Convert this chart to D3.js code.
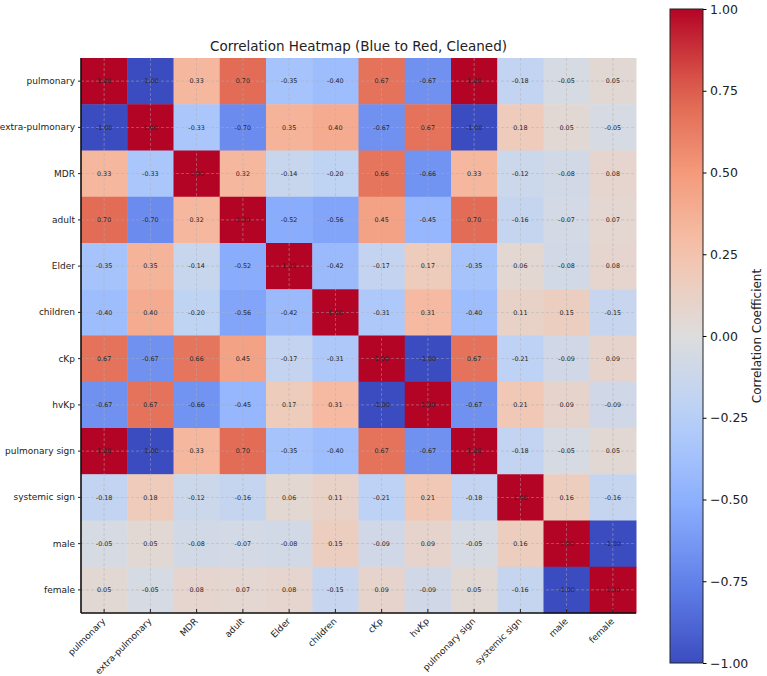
<!DOCTYPE html>
<html>
<head>
<meta charset="utf-8">
<script src="https://cdn.jsdelivr.net/npm/d3@7"></script>
<style>
  body { margin: 0; background: #fff; }
  svg, svg text { font-family: "DejaVu Sans", sans-serif; }
  .grid line { stroke: #b0b0b0; stroke-width: 0.6; stroke-dasharray: 3,2; opacity: 0.8; }
</style>
</head>
<body>
<div id="chart"></div>
<script>
// variables in matrix order
let labels = ["pulmonary", "extra-pulmonary", "MDR", "adult", "Elder", "children",
  "cKp", "hvKp", "pulmonary sign", "systemic sign", "male", "female"];

// correlation rows
let corr = [
  [1.00, -1.00, 0.33, 0.70, -0.35, -0.40, 0.67, -0.67, 1.00, -0.18, -0.05, 0.05],
  [-1.00, 1.00, -0.33, -0.70, 0.35, 0.40, -0.67, 0.67, -1.00, 0.18, 0.05, -0.05],
  [0.33, -0.33, 1.00, 0.32, -0.14, -0.20, 0.66, -0.66, 0.33, -0.12, -0.08, 0.08],
  [0.70, -0.70, 0.32, 1.00, -0.52, -0.56, 0.45, -0.45, 0.70, -0.16, -0.07, 0.07],
  [-0.35, 0.35, -0.14, -0.52, 1.00, -0.42, -0.17, 0.17, -0.35, 0.06, -0.08, 0.08],
  [-0.40, 0.40, -0.20, -0.56, -0.42, 1.00, -0.31, 0.31, -0.40, 0.11, 0.15, -0.15],
  [0.67, -0.67, 0.66, 0.45, -0.17, -0.31, 1.00, -1.00, 0.67, -0.21, -0.09, 0.09],
  [-0.67, 0.67, -0.66, -0.45, 0.17, 0.31, -1.00, 1.00, -0.67, 0.21, 0.09, -0.09],
  [1.00, -1.00, 0.33, 0.70, -0.35, -0.40, 0.67, -0.67, 1.00, -0.18, -0.05, 0.05],
  [-0.18, 0.18, -0.12, -0.16, 0.06, 0.11, -0.21, 0.21, -0.18, 1.00, 0.16, -0.16],
  [-0.05, 0.05, -0.08, -0.07, -0.08, 0.15, -0.09, 0.09, -0.05, 0.16, 1.00, -1.00],
  [0.05, -0.05, 0.08, 0.07, 0.08, -0.15, 0.09, -0.09, 0.05, -0.16, -1.00, 1.00]
];

let cbarTicks = [-1, -0.75, -0.5, -0.25, 0, 0.25, 0.5, 0.75, 1];

// coolwarm anchors
let coolwarm = ["#3b4cc0", "#6282ea", "#8db0fe", "#b8d0f9", "#dddddd",
  "#f5c4ad", "#f49a7b", "#de604d", "#b40426"];

let W = 767, H = 676;
let margin = { top: 58, left: 81 },
  size = 555;
let font = "DejaVu Sans, sans-serif";

let svg = d3.select("#chart").append("svg")
  .attr("width", W).attr("height", H);

let color = d3.scaleLinear()
  .domain(d3.range(coolwarm.length).map(i => -1 + 2 * i / (coolwarm.length - 1)))
  .range(coolwarm)
  .interpolate(d3.interpolateRgb)
  .clamp(true);

let x = d3.scaleBand().domain(labels).range([0, size]);
let y = d3.scaleBand().domain(labels).range([0, size]);

let canvas = svg.append("g")
  .attr("transform", "translate(" + margin.left + "," + margin.top + ")");

let cells = [];
corr.forEach((row, i) => row.forEach((v, j) => cells.push({ r: labels[i], c: labels[j], v: v })));

canvas.selectAll("rect.cell").data(cells).enter().append("rect")
  .attr("class", "cell")
  .attr("x", d => x(d.c))
  .attr("y", d => y(d.r))
  .attr("width", x.bandwidth() + 0.5)
  .attr("height", y.bandwidth() + 0.5)
  .attr("fill", d => color(d.v));

// dashed grid at tick positions
let grid = canvas.append("g").attr("class", "grid");
grid.selectAll("line.v").data(labels).enter().append("line")
  .attr("x1", d => x(d) + x.bandwidth() / 2).attr("x2", d => x(d) + x.bandwidth() / 2)
  .attr("y1", 0).attr("y2", size);
grid.selectAll("line.h").data(labels).enter().append("line")
  .attr("y1", d => y(d) + y.bandwidth() / 2).attr("y2", d => y(d) + y.bandwidth() / 2)
  .attr("x1", 0).attr("x2", size);

canvas.selectAll("text.val").data(cells).enter().append("text")
  .attr("class", "val")
  .attr("x", d => x(d.c) + x.bandwidth() / 2)
  .attr("y", d => y(d.r) + y.bandwidth() / 2)
  .attr("dy", "0.35em")
  .attr("text-anchor", "middle")
  .style("font-size", "6.4px")
  .style("fill", "#262626")
  .text(d => d.v.toFixed(2));

// axes
let yAxis = canvas.append("g")
  .call(d3.axisLeft(y).tickSize(3).tickPadding(3))
  .attr("font-family", font);
yAxis.selectAll("text").style("font-size", "9px").style("fill", "#222");

let xAxis = canvas.append("g")
  .attr("transform", "translate(0," + size + ")")
  .call(d3.axisBottom(x).tickSize(-4).tickPadding(3))
  .attr("font-family", font);
xAxis.selectAll("text")
  .style("font-size", "9px").style("fill", "#222")
  .style("text-anchor", "end")
  .attr("y", 0)
  .attr("dx", 0)
  .attr("dy", "0.6em")
  .attr("transform", "translate(-2,5) rotate(-45)");

[yAxis, xAxis].forEach(a => {
  a.select(".domain").attr("stroke", "#111").attr("stroke-width", 1.6);
  a.selectAll(".tick line").attr("stroke", "#222");
});
yAxis.select(".domain").attr("d", "M0,0V" + size);
xAxis.select(".domain").attr("d", "M0,0H" + size);

svg.append("text")
  .attr("x", margin.left + size / 2)
  .attr("y", 51)
  .attr("text-anchor", "middle")
  .style("font-size", "13.5px")
  .style("fill", "#222")
  .text("Correlation Heatmap (Blue to Red, Cleaned)");

// colorbar
let cb = { x: 670, y: 9, w: 33, h: 654 };
let cScale = d3.scaleLinear().domain([-1, 1]).range([cb.y + cb.h, cb.y]);

let defs = svg.append("defs");
let grad = defs.append("linearGradient").attr("id", "cw")
  .attr("x1", 0).attr("y1", 1).attr("x2", 0).attr("y2", 0);
grad.selectAll("stop").data(d3.range(0, 1.0001, 0.05)).enter().append("stop")
  .attr("offset", d => d)
  .attr("stop-color", d => color(-1 + 2 * d));

svg.append("rect")
  .attr("x", cb.x).attr("y", cb.y).attr("width", cb.w).attr("height", cb.h)
  .attr("fill", "url(#cw)")
  .attr("stroke", "#222").attr("stroke-width", 1);

let cAxis = svg.append("g")
  .attr("transform", "translate(" + (cb.x + cb.w) + ",0)")
  .call(d3.axisRight(cScale).tickValues(cbarTicks).tickSize(3.5).tickPadding(3.5)
    .tickFormat(d => d3.format(".2f")(d).replace("-", "\u2212")))
  .attr("font-family", font);
cAxis.select(".domain").remove();
cAxis.selectAll("text").style("font-size", "12.5px").style("fill", "#222");

svg.append("text")
  .attr("transform", "translate(761," + (cb.y + cb.h / 2) + ") rotate(-90)")
  .attr("text-anchor", "middle")
  .style("font-size", "12px")
  .style("fill", "#222")
  .text("Correlation Coefficient");
</script>
</body>
</html>
